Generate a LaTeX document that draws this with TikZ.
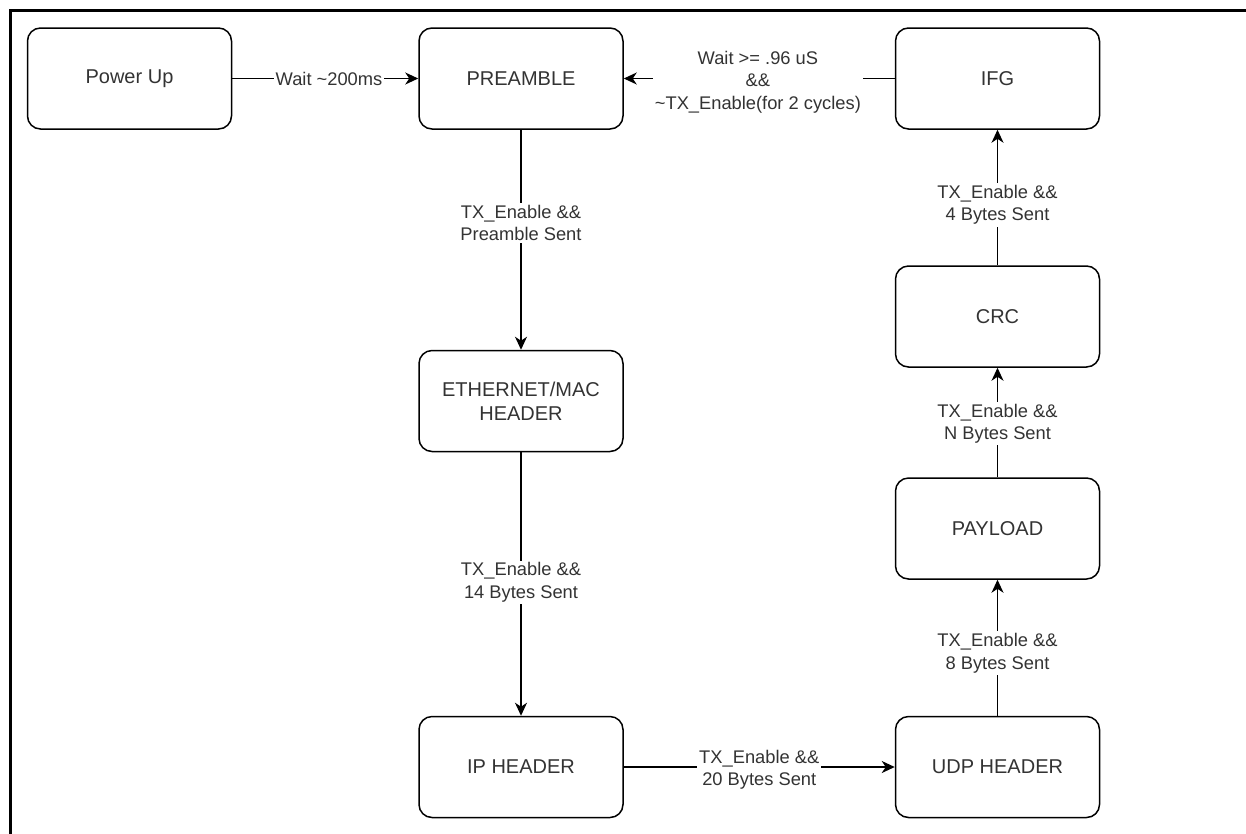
\documentclass[tikz,border=0pt]{standalone}
\usepackage{fontspec}
\setmainfont{Liberation Sans}
\usetikzlibrary{arrows.meta}
\definecolor{ink}{HTML}{333333}
\begin{document}
\begin{tikzpicture}[x=1pt,y=-1pt,
  state/.style={draw=black, line width=1.5pt, rounded corners=13pt,
    minimum width=204pt, minimum height=101pt, align=center, text=ink,
    font=\fontsize{20}{24}\selectfont, inner sep=0pt},
  tlabel/.style={fill=white, text=ink, align=center, inner sep=2pt,
    font=\fontsize{18.3}{22.5}\selectfont},
  flow/.style={line width=1.6pt, -{Stealth[length=13pt,width=12pt,inset=4pt]}}
]
\useasboundingbox (0,0) rectangle (1246,833);
% outer frame (top and left edges)
\draw[line width=2.8pt, line join=miter] (1250,10.3) -- (10.3,10.3) -- (10.3,840);

% states
\node[state] (power) at (129.5,78.5) {Power Up};
\node[state] (pre)   at (521,78.5)   {PREAMBLE};
\node[state] (ifg)   at (997.5,78.5) {IFG};
\node[state] (eth)   at (521,401)    {ETHERNET/MAC\\HEADER};
\node[state] (crc)   at (997.5,316.5) {CRC};
\node[state] (pay)   at (997.5,528.5) {PAYLOAD};
\node[state] (ip)    at (521,767)    {IP HEADER};
\node[state] (udp)   at (997.5,767)  {UDP HEADER};

% transitions
\draw[flow] (power) -- node[tlabel, pos=0.52] {Wait \textasciitilde200ms} (pre);
\draw[flow] (ifg) -- node[tlabel, pos=0.505, yshift=-3.5pt]
  {Wait >= .96 uS\\\&\&\\\textasciitilde TX\_Enable(for 2 cycles)} (pre);
\draw[flow] (pre) -- node[tlabel, pos=0.424] {TX\_Enable \&\&\\Preamble Sent} (eth);
\draw[flow] (eth) -- node[tlabel, pos=0.494] {TX\_Enable \&\&\\14 Bytes Sent} (ip);
\draw[flow] (ip) -- node[tlabel, yshift=-3pt] {TX\_Enable \&\&\\20 Bytes Sent} (udp);
\draw[flow] (udp) -- node[tlabel, pos=0.46] {TX\_Enable \&\&\\8 Bytes Sent} (pay);
\draw[flow] (pay) -- node[tlabel, pos=0.49] {TX\_Enable \&\&\\N Bytes Sent} (crc);
\draw[flow] (crc) -- node[tlabel, pos=0.445] {TX\_Enable \&\&\\4 Bytes Sent} (ifg);
\end{tikzpicture}
\end{document}
